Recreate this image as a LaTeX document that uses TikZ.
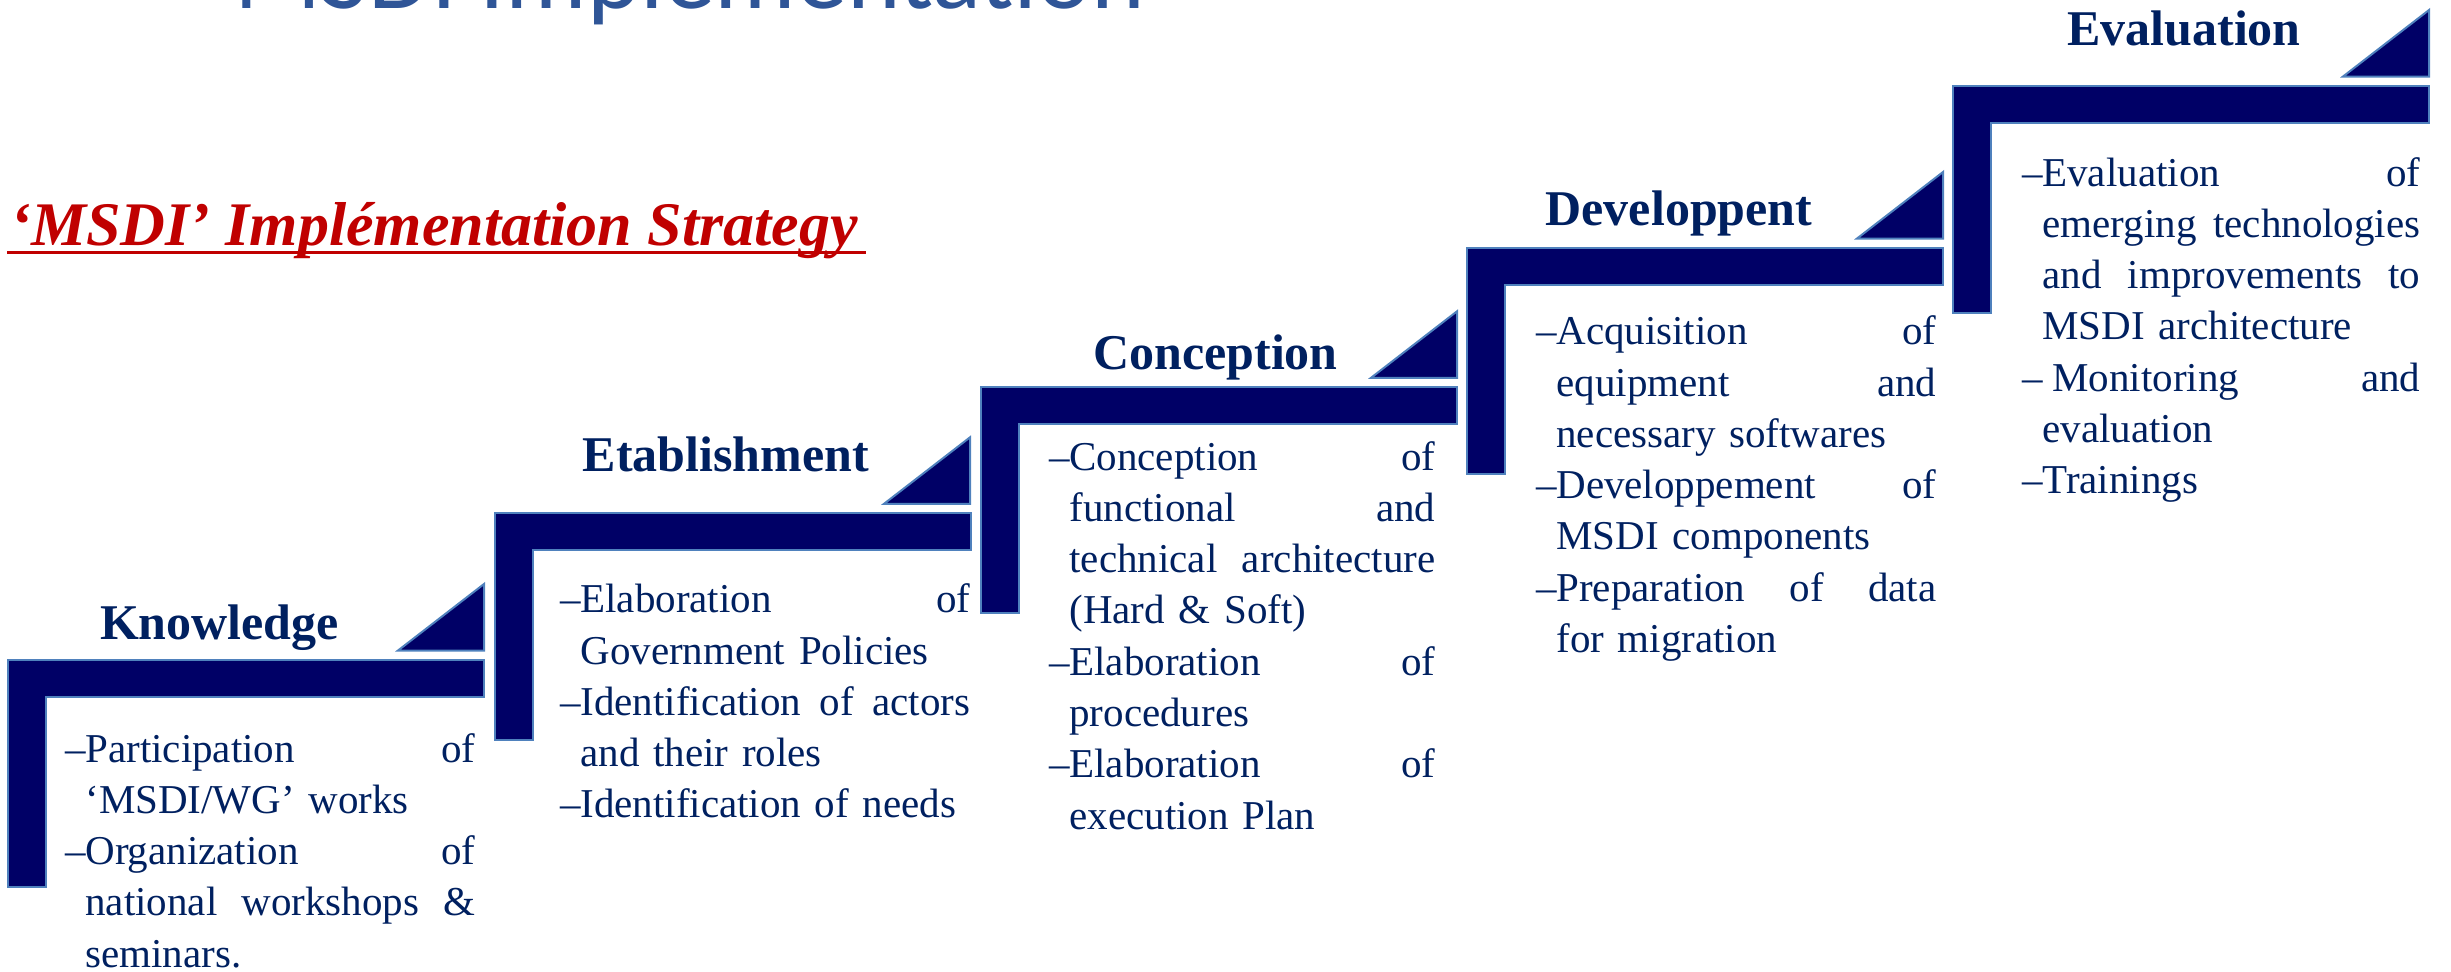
\documentclass[tikz,border=0pt]{standalone}
\usepackage{fontspec}
\setmainfont{Liberation Serif}
\newfontfamily\titlefont{Carlito}
\definecolor{navytext}{RGB}{0,32,96}
\definecolor{stepfill}{RGB}{0,0,102}
\definecolor{stepline}{RGB}{79,129,189}
\definecolor{titleblue}{RGB}{47,85,151}
\definecolor{strategyred}{RGB}{192,0,0}
% one dashed entry of a step list
\newcommand{\stepitem}[1]{\noindent\rightskip=0pt\relax
	\hangindent 10pt \hangafter 1 \makebox[10pt][l]{--}#1\par}
% stretched word gap of a justified line
\newcommand{\jsp}{\hspace{\fill}}

\begin{document}
\begin{tikzpicture}[
		x=0.5pt, y=-0.5pt,
		stepbar/.style={fill=stepfill, draw=stepline, line width=1pt},
		steptitle/.style={
			anchor=base, inner sep=0pt, text=navytext,
			font=\bfseries\fontsize{25}{30}\selectfont
		},
		stepbody/.style={
			anchor=base west, inner sep=0pt, text=navytext,
			text width=#1,
			font=\fontsize{20.5}{25.65}\selectfont
		}
		]
		\useasboundingbox (0,0) rectangle (2451,971);
		
		\node[anchor=base west, inner sep=0pt, text=titleblue,
			font=\titlefont\fontsize{51}{60}\selectfont] (maintitle) at (234,8) {MSDI Implementation};
		\node[anchor=base west, inner sep=0pt, text=strategyred,
			font=\bfseries\itshape\fontsize{31}{37}\selectfont] (strategy) at (10,245) {‘MSDI’ Implémentation Strategy};
		\draw[strategyred, line width=1.5pt] ([shift={(-3,7)}]strategy.base west) -- ([shift={(8,7)}]strategy.base east);
		
		% the five steps
		\draw[stepbar] (8,660) -- ++(476,0) -- ++(0,37) -- ++(-438,0) -- ++(0,190) -- ++(-38,0) -- cycle;
		\draw[stepbar] (484,584) -- ++(0,66.5) -- ++(-86,0) -- cycle;
		\node[steptitle] (knowledge) at (219.5,639) {Knowledge};
		\node[stepbody=205pt] (knowledge-txt) at (65,762) {%
			\stepitem{Participation\jsp of\linebreak ‘MSDI/WG’ works}%
			\stepitem{Organization\jsp of\linebreak national\jsp workshops\jsp\&\linebreak seminars.}};
		
		\draw[stepbar] (495,513.3) -- ++(476,0) -- ++(0,37) -- ++(-438,0) -- ++(0,190) -- ++(-38,0) -- cycle;
		\draw[stepbar] (970,437.3) -- ++(0,66.5) -- ++(-86,0) -- cycle;
		\node[steptitle] (etablishment) at (726,471.7) {Etablishment};
		\node[stepbody=205pt] (etablishment-txt) at (560,612.7) {%
			\stepitem{Elaboration\jsp of\linebreak Government Policies}%
			\stepitem{Identification\jsp of\jsp actors\linebreak and their roles}%
			\stepitem{Identification of needs}};
		
		\draw[stepbar] (981,387.3) -- ++(476,0) -- ++(0,37) -- ++(-438,0) -- ++(0,189) -- ++(-38,0) -- cycle;
		\draw[stepbar] (1457,311.3) -- ++(0,66.5) -- ++(-86,0) -- cycle;
		\node[steptitle] (conception) at (1215.5,369.3) {Conception};
		\node[stepbody=193pt] (conception-txt) at (1049,470) {%
			\stepitem{Conception\jsp of\linebreak functional\jsp and\linebreak technical\jsp architecture\linebreak (Hard \& Soft)}%
			\stepitem{Elaboration\jsp of\linebreak procedures}%
			\stepitem{Elaboration\jsp of\linebreak execution Plan}};
		
		\draw[stepbar] (1467,248) -- ++(476,0) -- ++(0,37) -- ++(-438,0) -- ++(0,189) -- ++(-38,0) -- cycle;
		\draw[stepbar] (1943,172) -- ++(0,66.5) -- ++(-86,0) -- cycle;
		\node[steptitle] (developpent) at (1679,225.4) {Developpent};
		\node[stepbody=200pt] (developpent-txt) at (1536,344.7) {%
			\stepitem{Acquisition\jsp of\linebreak equipment\jsp and\linebreak necessary softwares}%
			\stepitem{Developpement\jsp of\linebreak MSDI components}%
			\stepitem{Preparation\jsp of\jsp data\linebreak for migration}};
		
		\draw[stepbar] (1953,86) -- ++(476,0) -- ++(0,37) -- ++(-438,0) -- ++(0,190) -- ++(-38,0) -- cycle;
		\draw[stepbar] (2429,10) -- ++(0,66.5) -- ++(-86,0) -- cycle;
		\node[steptitle] (evaluation) at (2184,45) {Evaluation};
		\node[stepbody=199pt] (evaluation-txt) at (2022,186) {%
			\stepitem{Evaluation\jsp of\linebreak emerging\jsp technologies\linebreak and\jsp improvements\jsp to\linebreak MSDI architecture}%
			\stepitem{\hspace{5pt}Monitoring\jsp and\linebreak evaluation}%
			\stepitem{Trainings}};
	\end{tikzpicture}
\end{document}
